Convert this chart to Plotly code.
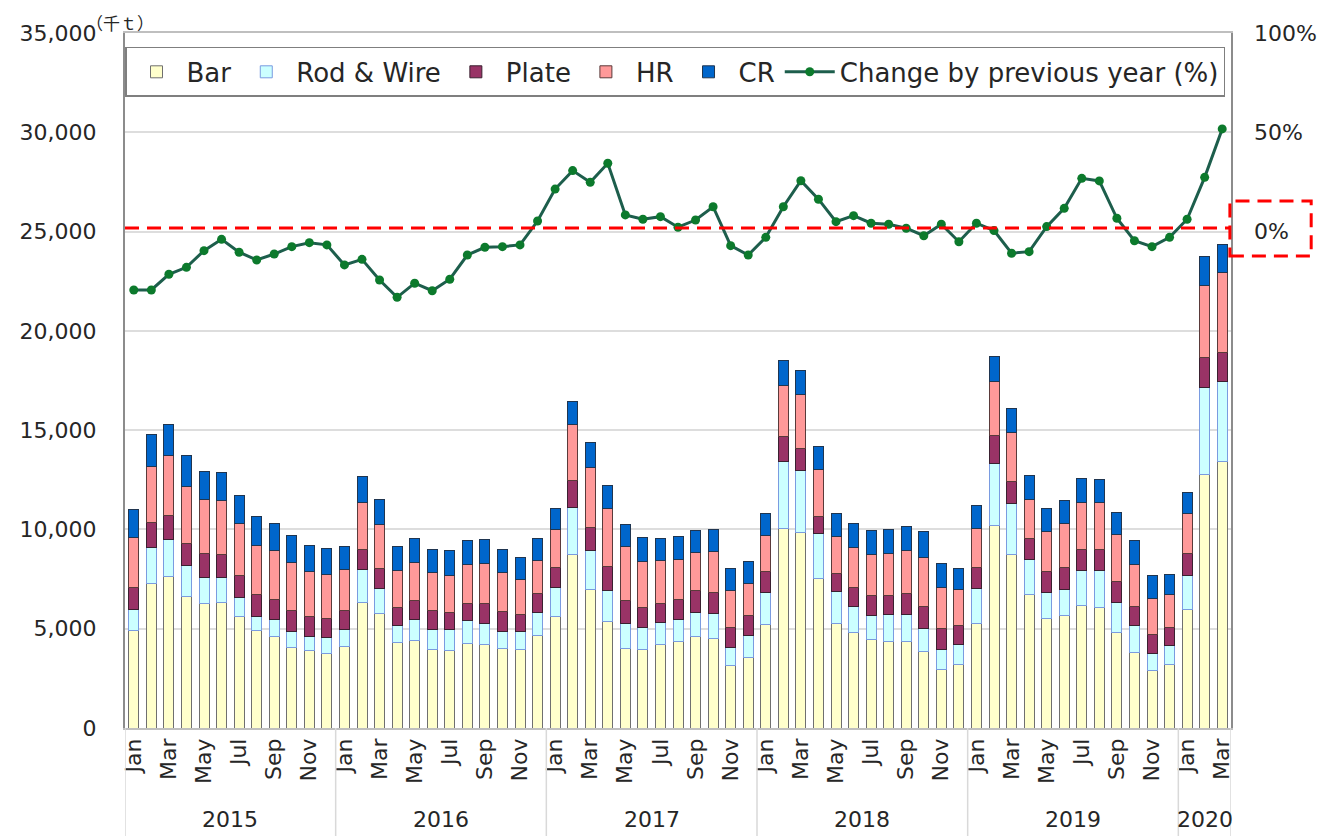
import plotly.graph_objects as go

# ---------------- data (千t) ----------------
years = [2015] * 12 + [2016] * 12 + [2017] * 12 + [2018] * 12 + [2019] * 12 + [2020] * 3
month_names = ["Jan", "Feb", "Mar", "Apr", "May", "Jun", "Jul", "Aug", "Sep", "Oct", "Nov", "Dec"]
months = (month_names * 6)[:63]

bar = [4900, 7280, 7620, 6610, 6280, 6330, 5620, 4900, 4630, 4040, 3890, 3760,
       4090, 6310, 5770, 4300, 4430, 3960, 3890, 4260, 4210, 3990, 3960, 4680,
       5640, 8740, 6980, 5350, 4010, 3960, 4210, 4380, 4630, 4520, 3170, 3560,
       5190, 10060, 9830, 7540, 5270, 4820, 4460, 4380, 4350, 3840, 2960, 3220,
       5240, 10220, 8760, 6700, 5520, 5690, 6160, 6080, 4820, 3790, 2890, 3210,
       5980, 12770, 13410]
rod_wire = [1080, 1810, 1880, 1550, 1320, 1240, 940, 740, 810, 840, 740, 810,
            890, 1650, 1260, 850, 1040, 1020, 1080, 1130, 1060, 890, 890, 1150,
            1420, 2370, 1980, 1550, 1260, 1090, 1110, 1060, 1180, 1250, 870, 1090,
            1640, 3350, 3160, 2260, 1590, 1290, 1210, 1340, 1370, 1160, 1000, 1010,
            1790, 3110, 2550, 1810, 1290, 1310, 1750, 1830, 1490, 1350, 870, 930,
            1720, 4390, 4040]
plate = [1100, 1250, 1190, 1140, 1190, 1170, 1110, 1060, 1010, 1030, 970, 930,
         960, 1040, 980, 910, 940, 960, 840, 890, 1010, 1010, 870, 920,
         1020, 1330, 1130, 1220, 1140, 1010, 960, 1040, 1120, 1060, 1020, 1040,
         1040, 1290, 1090, 870, 930, 950, 980, 960, 1060, 1140, 1060, 920,
         1050, 1420, 1090, 1040, 1060, 1080, 1090, 1100, 1060, 1000, 970, 930,
         1090, 1490, 1460]
hr = [2500, 2850, 3010, 2850, 2720, 2710, 2640, 2510, 2510, 2410, 2260, 2250,
      2020, 2340, 2250, 1850, 1910, 1880, 1890, 1930, 1990, 1930, 1770, 1710,
      1920, 2820, 3030, 2910, 2750, 2350, 2180, 2030, 1900, 2080, 1850, 1590,
      1810, 2570, 2740, 2340, 1840, 2030, 2090, 2110, 2180, 2450, 2060, 1800,
      1980, 2710, 2470, 1980, 2010, 2230, 2360, 2350, 2370, 2100, 1800, 1630,
      1990, 3610, 4030]
cr = [1430, 1610, 1570, 1550, 1410, 1420, 1420, 1430, 1330, 1360, 1340, 1300,
      1170, 1310, 1270, 1220, 1200, 1190, 1230, 1220, 1200, 1180, 1090, 1060,
      1030, 1170, 1250, 1190, 1110, 1170, 1070, 1120, 1110, 1110, 1100, 1090,
      1100, 1260, 1170, 1150, 1150, 1220, 1230, 1210, 1180, 1290, 1210, 1060,
      1130, 1240, 1230, 1210, 1180, 1140, 1190, 1130, 1120, 1180, 1140, 1050,
      1070, 1510, 1410]
change_pct = [-29.4, -29.4, -21.5, -18.0, -9.6, -3.9, -10.4, -14.3, -11.3, -7.6, -5.6, -6.7,
              -16.8, -14.0, -24.4, -33.1, -26.0, -29.8, -24.0, -11.8, -7.9, -7.6, -6.7, 5.3,
              21.4, 30.7, 24.8, 34.4, 8.4, 6.2, 7.5, 2.2, 5.8, 12.5, -7.1, -11.8,
              -2.9, 12.5, 25.6, 16.3, 5.0, 8.0, 4.2, 3.7, 1.7, -2.1, 3.7, -5.1,
              4.2, 0.5, -10.9, -10.1, 2.5, 11.7, 26.8, 25.5, 6.7, -4.6, -7.6, -2.9,
              6.2, 27.3, 51.7]

series_names = ["Bar", "Rod & Wire", "Plate", "HR", "CR"]
series_values = [bar, rod_wire, plate, hr, cr]
series_colors = ["#FFFFCC", "#CCFFFF", "#993366", "#FF9999", "#0066CC"]
series_lines = ["#6F6F6F", "#7A9BE0", "#3A2030", "#5A3A3A", "#1F3550"]

left_ticks = [0, 5000, 10000, 15000, 20000, 25000, 30000, 35000]
right_ticks = [0, 50, 100]
right_ticktext = ["0%", "50%", "100%"]
shown_months = ["Jan", "Mar", "May", "Jul", "Sep", "Nov"]

idx = list(range(len(months)))

# ---------------- figure ----------------
FONT = "DejaVu Sans, Verdana, sans-serif"
fig = go.Figure()

for name, vals, col, lc in zip(series_names, series_values, series_colors, series_lines):
    fig.add_trace(go.Bar(
        x=idx, y=vals, name=name,
        marker=dict(color=col, line=dict(color=lc, width=1)),
        yaxis="y",
    ))

fig.add_trace(go.Scatter(
    x=idx, y=change_pct, name="Change by previous year (%)",
    mode="lines+markers", yaxis="y2",
    line=dict(color="#1D5E4C", width=3),
    marker=dict(color="#0C7A2C", size=9),
))

tickvals = [i for i in idx if months[i] in shown_months]
ticktext = [months[i] for i in tickvals]

# year group labels and dividers
uniq_years = []
for y in years:
    if y not in uniq_years:
        uniq_years.append(y)
annotations = []
shapes = []
for y in uniq_years:
    pos = [i for i in idx if years[i] == y]
    annotations.append(dict(
        x=(pos[0] + pos[-1]) / 2, y=-0.132, xref="x", yref="paper",
        text=str(y), showarrow=False, font=dict(size=22, family=FONT, color="#262626"),
        yanchor="middle",
    ))
    shapes.append(dict(type="line", xref="x", yref="paper",
                       x0=pos[0] - 0.5, x1=pos[0] - 0.5, y0=0, y1=-0.16,
                       line=dict(color="#D9D9D9", width=1.5)))
shapes.append(dict(type="line", xref="x", yref="paper",
                   x0=idx[-1] + 0.5, x1=idx[-1] + 0.5, y0=0, y1=-0.16,
                   line=dict(color="#D9D9D9", width=1.5)))

# red dashed reference line near 0% and box around the 0% label
shapes.append(dict(type="line", xref="paper", yref="y2", x0=0.0, x1=1.0, y0=1.8, y1=1.8,
                   line=dict(color="#FF0000", width=3, dash="14px,8px"), layer="above"))
shapes.append(dict(type="rect", xref="paper", yref="y2", x0=0.999, x1=1.0725, y0=-12.3, y1=15.4,
                   line=dict(color="#FF0000", width=3, dash="14px,8px")))

# thin light-blue strip at top
shapes.append(dict(type="rect", xref="paper", yref="paper", x0=-0.1, x1=1.1, y0=1.0475, y1=1.06,
                   fillcolor="#DCE9F6", line=dict(width=0), layer="below"))

annotations.append(dict(
    x=-0.036, y=1.034, xref="paper", yref="paper", text="（千ｔ）", showarrow=False,
    xanchor="left", yanchor="top", borderpad=0,
    font=dict(size=17, family="Noto Sans CJK JP", color="#262626"),
))

# page body has an 8px margin: figure is sized/offset so the plot area lands where the reference has it
fig.update_layout(
    width=1328, height=828,
    margin=dict(l=106, r=105, t=25, b=108),
    paper_bgcolor="white", plot_bgcolor="white",
    font=dict(family=FONT, size=22, color="#262626"),
    barmode="stack", bargap=0.43,
    showlegend=True,
    legend=dict(
        orientation="h", x=0.0, y=0.98, xanchor="left", yanchor="top",
        bordercolor="#7F7F7F", borderwidth=1.5, bgcolor="white",
        font=dict(size=26, family=FONT, color="#262626"),
        traceorder="normal", itemwidth=50,
    ),
    xaxis=dict(
        range=[-0.5, len(idx) - 0.5], tickmode="array", tickvals=tickvals, ticktext=ticktext,
        tickangle=-90, tickfont=dict(size=22), showgrid=False, zeroline=False,
        showline=True, linecolor="#BFBFBF", linewidth=1.5, mirror=True, ticks="",
    ),
    yaxis=dict(
        range=[0, 35000], tickmode="array", tickvals=left_ticks, tickformat=",",
        showgrid=True, gridcolor="#DDDDDD", gridwidth=1.5, zeroline=False,
        showline=True, linecolor="#8C8C8C", linewidth=2, mirror=True,
        tickfont=dict(size=22), ticklabelstandoff=22,
    ),
    yaxis2=dict(
        range=[-250, 100], overlaying="y", side="right", tickmode="array",
        tickvals=right_ticks, ticktext=right_ticktext, showgrid=False, zeroline=False,
        showline=False, tickfont=dict(size=22), ticklabelstandoff=22,
    ),
    shapes=shapes,
    annotations=annotations,
)

fig.write_html("out.html")
